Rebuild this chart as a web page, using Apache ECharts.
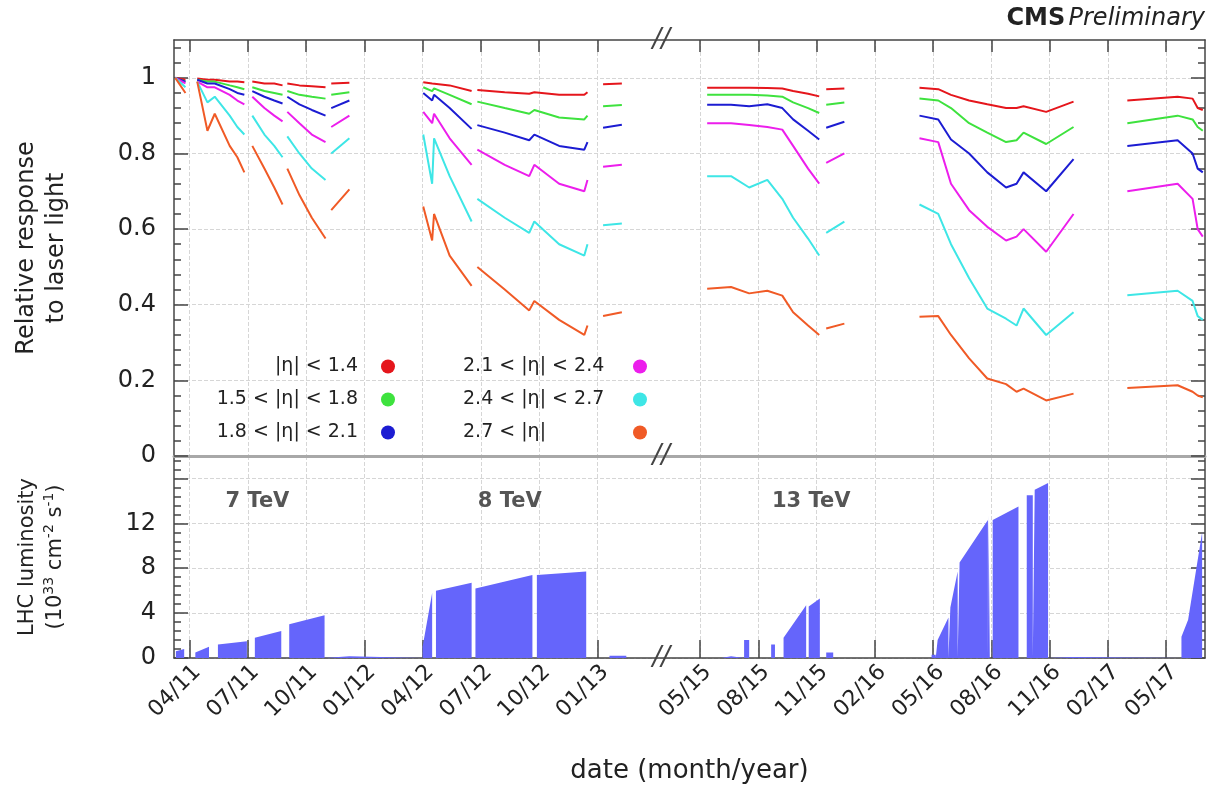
<!DOCTYPE html>
<html>
<head>
<meta charset="utf-8">
<script src="https://cdn.jsdelivr.net/npm/echarts@6/dist/echarts.min.js"></script>
<style>
html,body{margin:0;padding:0;background:#fff;}
#chart{width:1215px;height:787px;}
</style>
</head>
<body>
<div id="chart"></div>
<script>
// dates of the laser-monitoring segments (shared by all eta bins)
var segDates = [
  ['2011-03-09','2011-03-25'],
  ['2011-04-13','2011-04-29','2011-05-10','2011-06-03','2011-06-15','2011-06-26'],
  ['2011-07-08','2011-07-27','2011-08-12','2011-08-25'],
  ['2011-09-02','2011-09-21','2011-10-10','2011-11-01'],
  ['2011-11-10','2011-12-08'],
  ['2012-04-02','2012-04-16','2012-04-19','2012-05-13','2012-06-17'],
  ['2012-06-26','2012-08-08','2012-09-16','2012-09-24','2012-11-02','2012-12-11','2012-12-16'],
  ['2013-01-10','2013-02-09'],
  ['2015-05-12','2015-06-19','2015-07-17','2015-08-15','2015-09-08','2015-09-25','2015-10-18','2015-11-05'],
  ['2015-11-16','2015-12-14'],
  ['2016-04-10','2016-05-09','2016-05-29','2016-06-27','2016-07-25','2016-08-24','2016-09-10','2016-09-21','2016-10-26','2016-12-08'],
  ['2017-03-01','2017-05-19','2017-06-12','2017-06-20','2017-06-28']
];

var redVals = [[1.0,0.995],[0.998,0.995,0.995,0.99,0.99,0.988],[0.99,0.985,0.985,0.98],[0.985,0.98,0.978,0.975],[0.985,0.987],
  [0.988,0.985,0.988,0.98,0.965],[0.968,0.962,0.958,0.962,0.955,0.955,0.962],[0.983,0.985],
  [0.974,0.974,0.974,0.973,0.972,0.965,0.958,0.951],[0.97,0.972],
  [0.974,0.97,0.955,0.94,0.93,0.92,0.92,0.925,0.91,0.937],[0.94,0.95,0.945,0.92,0.915]];
var greenVals = [[1.0,0.99],[0.995,0.99,0.99,0.98,0.975,0.97],[0.975,0.965,0.96,0.955],[0.965,0.955,0.95,0.945],[0.955,0.962],
  [0.975,0.965,0.972,0.955,0.93],[0.937,0.92,0.905,0.915,0.895,0.89,0.90],[0.925,0.928],
  [0.955,0.955,0.955,0.953,0.95,0.935,0.92,0.907],[0.929,0.935],
  [0.945,0.94,0.92,0.88,0.855,0.83,0.835,0.855,0.825,0.87],[0.88,0.90,0.89,0.87,0.86]];
var blueVals = [[1.0,0.99],[0.995,0.985,0.985,0.97,0.96,0.955],[0.965,0.95,0.94,0.932],[0.95,0.93,0.915,0.90],[0.92,0.94],
  [0.96,0.94,0.955,0.92,0.865],[0.875,0.855,0.835,0.85,0.82,0.81,0.83],[0.868,0.876],
  [0.929,0.929,0.925,0.93,0.92,0.89,0.86,0.837],[0.868,0.884],
  [0.90,0.89,0.837,0.80,0.75,0.71,0.72,0.75,0.70,0.785],[0.82,0.835,0.80,0.76,0.75]];
var magentaVals = [[1.0,0.985],[0.99,0.975,0.975,0.955,0.94,0.93],[0.95,0.92,0.90,0.885],[0.91,0.88,0.85,0.83],[0.87,0.90],
  [0.91,0.88,0.905,0.84,0.77],[0.81,0.77,0.74,0.77,0.72,0.70,0.73],[0.765,0.77],
  [0.88,0.88,0.875,0.87,0.863,0.82,0.76,0.72],[0.775,0.80],
  [0.84,0.83,0.72,0.65,0.606,0.57,0.58,0.60,0.54,0.64],[0.70,0.72,0.68,0.60,0.58]];
var cyanVals = [[1.0,0.975],[0.99,0.935,0.95,0.90,0.87,0.85],[0.90,0.85,0.82,0.79],[0.845,0.80,0.76,0.73],[0.80,0.84],
  [0.85,0.72,0.84,0.74,0.62],[0.68,0.63,0.59,0.62,0.56,0.53,0.56],[0.61,0.615],
  [0.74,0.74,0.71,0.73,0.68,0.63,0.575,0.53],[0.59,0.62],
  [0.665,0.64,0.56,0.47,0.39,0.363,0.345,0.39,0.32,0.38],[0.425,0.437,0.41,0.37,0.36]];
var orangeVals = [[1.0,0.96],[0.99,0.86,0.905,0.82,0.79,0.75],[0.82,0.76,0.71,0.665],[0.76,0.69,0.63,0.575],[0.65,0.705],
  [0.66,0.57,0.64,0.53,0.45],[0.50,0.44,0.385,0.41,0.36,0.32,0.345],[0.37,0.38],
  [0.442,0.447,0.43,0.437,0.424,0.38,0.345,0.32],[0.337,0.35],
  [0.368,0.37,0.32,0.258,0.205,0.19,0.17,0.178,0.147,0.165],[0.18,0.187,0.17,0.16,0.155]];

var etaNames = ['|η| < 1.4','1.5 < |η| < 1.8','1.8 < |η| < 2.1','2.1 < |η| < 2.4','2.4 < |η| < 2.7','2.7 < |η|'];
var etaColors = ['#e5161c','#3ee23e','#1c1cd2','#ec1eec','#3ee6e6','#f05a26'];

// LHC luminosity blocks (10^33 cm^-2 s^-1)
var lumiStart = ['2011-03-10','2011-04-10','2011-05-15','2011-07-12','2011-09-05','2011-11-02',
  '2012-04-01','2012-04-22','2012-06-23','2012-09-28','2013-01-20',
  '2015-06-04','2015-07-09','2015-08-21','2015-09-10','2015-10-19','2015-11-16',
  '2016-04-29','2016-05-08','2016-05-28','2016-06-12','2016-07-27','2016-08-03','2016-09-26','2016-10-08','2016-10-30',
  '2017-05-25','2017-06-05'];
var lumiEnd = ['2011-03-23','2011-05-01','2011-06-30','2011-08-23','2011-10-30','2011-12-08',
  '2012-04-16','2012-06-17','2012-09-21','2012-12-14','2013-02-16',
  '2015-06-19','2015-07-17','2015-08-27','2015-10-15','2015-11-06','2015-11-27',
  '2016-05-05','2016-05-25','2016-06-09','2016-07-26','2016-07-29','2016-09-13','2016-10-05','2016-10-29','2016-12-06',
  '2017-06-05','2017-06-27'];
var lumiFrom = [0.6,0.5,1.2,1.8,3.0,0.15, 1.0,6.0,6.2,7.4,0.2, 0.15,1.6,1.2,1.8,4.6,0.5, 0.3,1.6,4.5,8.5,12.7,12.3,14.5,15.0,0.1, 1.9,3.4];
var lumiTo   = [0.8,1.0,1.5,2.4,3.8,0.15, 5.8,6.7,7.4,7.7,0.2, 0.15,1.6,1.2,4.7,5.3,0.5, 0.3,3.6,7.7,12.3,12.7,13.5,14.5,15.6,0.1, 3.4,11.2];

var tickDates = ['2011-04','2011-07','2011-10','2012-01','2012-04','2012-07','2012-10','2013-01',
  '2015-05','2015-08','2015-11','2016-02','2016-05','2016-08','2016-11','2017-02','2017-05'];
var tickLabels = ['04/11','07/11','10/11','01/12','04/12','07/12','10/12','01/13',
  '05/15','08/15','11/15','02/16','05/16','08/16','11/16','02/17','05/17'];

var yTicksTop = [0, 0.2, 0.4, 0.6, 0.8, 1.0];
var yLabelsLumi = [0, 4, 8, 12];

var runNames = ['7 TeV', '8 TeV', '13 TeV'];
var runLabelDates = ['2011-07-16', '2012-08-16', '2015-10-23'];

var AXIS_START = '2011-03-07', AXIS_END = '2017-07-01';
var BREAK_FROM = '2013-04-10', BREAK_TO = '2015-03-01';

function monthsOf(d) {
  var p = d.split('-').map(Number);
  return (p[0] - 2011) * 12 + (p[1] - 1) + ((p[2] || 1) - 1) / 30.5;
}
var BLO = monthsOf(BREAK_FROM), BHI = monthsOf(BREAK_TO);
// broken date axis: the shutdown between the two runs is cut out
function toAxis(d) {
  var m = monthsOf(d);
  return m < BLO ? m : m - (BHI - BLO);
}

var FONT = 'DejaVu Sans';
var chart = echarts.init(document.getElementById('chart'));

var tickVals = tickDates.map(toAxis);

function segPoints(vals) {
  var pts = [];
  segDates.forEach(function (dates, i) {
    dates.forEach(function (d, j) { pts.push([toAxis(d), vals[i][j]]); });
    pts.push([toAxis(dates[dates.length - 1]) + 0.05, null]);
  });
  return pts;
}

var lumiPts = [];
lumiStart.forEach(function (s, i) {
  var a = toAxis(s), b = toAxis(lumiEnd[i]);
  lumiPts.push([a, 0], [a, lumiFrom[i]], [b, lumiTo[i]], [b, 0]);
});

var etaValues = [redVals, greenVals, blueVals, magentaVals, cyanVals, orangeVals];
var series = etaValues.map(function (vals, i) {
  return {
    name: etaNames[i], type: 'line', xAxisIndex: 0, yAxisIndex: 0,
    symbol: 'none', connectNulls: false,
    lineStyle: {color: etaColors[i], width: 2},
    itemStyle: {color: etaColors[i]},
    data: segPoints(vals)
  };
});
series.push({
  name: 'lumi', type: 'line', xAxisIndex: 1, yAxisIndex: 2,
  symbol: 'none', lineStyle: {width: 0},
  areaStyle: {color: '#6565fb', opacity: 1},
  data: lumiPts
});

var xMin = toAxis(AXIS_START), xMax = toAxis(AXIS_END);
var frame = {color: '#444', width: 1.5};
var grid = {color: '#d6d6d6', type: 'dashed', width: 1};

function xFmt(v) {
  for (var i = 0; i < tickVals.length; i++) {
    if (Math.abs(tickVals[i] - v) < 1e-6) return tickLabels[i];
  }
  return '';
}

var option = {
  animation: false,
  textStyle: {fontFamily: FONT},
  grid: [
    {left: 174, right: 10, top: 40, height: 416, outerBoundsMode: 'none'},
    {left: 174, right: 10, top: 456, height: 202, outerBoundsMode: 'none'}
  ],
  xAxis: [
    {gridIndex: 0, type: 'value', position: 'top', min: xMin, max: xMax,
      axisLine: {show: true, onZero: false, lineStyle: frame},
      axisTick: {show: true, inside: true, length: 12, customValues: tickVals, lineStyle: frame},
      axisLabel: {show: false},
      splitLine: {show: true, lineStyle: grid}},
    {gridIndex: 1, type: 'value', position: 'bottom', min: xMin, max: xMax,
      axisLine: {show: true, onZero: false, lineStyle: frame},
      axisTick: {show: true, inside: true, length: 18, customValues: tickVals, lineStyle: frame},
      axisLabel: {customValues: tickVals, formatter: xFmt, rotate: 45, fontSize: 22, color: '#222',
        margin: 3, verticalAlign: 'top'},
      splitLine: {show: true, lineStyle: grid},
      name: 'date (month/year)', nameLocation: 'middle', nameGap: 100, nameMoveOverlap: false,
      nameTextStyle: {fontSize: 26, color: '#222'}},
    {gridIndex: 1, type: 'value', position: 'top', min: xMin, max: xMax,
      axisLine: {show: true, onZero: false, lineStyle: {color: '#a8a8a8', width: 3}},
      axisTick: {show: false}, axisLabel: {show: false}, splitLine: {show: false}}
  ],
  yAxis: [
    {gridIndex: 0, type: 'value', position: 'left', min: 0, max: 1.1, interval: 0.2,
      axisLine: {show: true, lineStyle: frame},
      axisTick: {show: true, inside: true, length: 14, customValues: yTicksTop, lineStyle: frame},
      minorTick: {show: true, splitNumber: 5, length: 7, lineStyle: frame},
      axisLabel: {customValues: yTicksTop, formatter: function (v) { return String(+v.toFixed(1)); },
        fontSize: 24, color: '#222', margin: 18},
      splitLine: {show: true, lineStyle: grid},
      name: 'Relative response\nto laser light', nameLocation: 'middle', nameGap: 102, nameRotate: 90,
      nameMoveOverlap: false, nameTextStyle: {fontSize: 24, lineHeight: 30, color: '#222'}},
    {gridIndex: 0, type: 'value', position: 'right', min: 0, max: 1.1, interval: 0.2,
      axisLine: {show: true, lineStyle: frame},
      axisTick: {show: true, inside: true, length: 14, customValues: yTicksTop, lineStyle: frame},
      minorTick: {show: true, splitNumber: 5, length: 7, lineStyle: frame},
      axisLabel: {show: false}, splitLine: {show: false}},
    {gridIndex: 1, type: 'value', position: 'left', min: 0, max: 18, interval: 4,
      axisLine: {show: true, lineStyle: frame},
      axisTick: {show: true, inside: true, length: 14, lineStyle: frame},
      minorTick: {show: true, splitNumber: 5, length: 7, lineStyle: frame},
      axisLabel: {customValues: yLabelsLumi, fontSize: 24, color: '#222', margin: 18},
      splitLine: {show: true, lineStyle: grid},
      name: 'LHC luminosity\n(10{sup|33} cm{sup|-2} s{sup|-1})', nameLocation: 'middle', nameGap: 104, nameRotate: 90,
      nameMoveOverlap: false,
      nameTextStyle: {fontSize: 21, lineHeight: 28, color: '#222',
        rich: {sup: {fontSize: 14, lineHeight: 17, verticalAlign: 'top', color: '#222'}}}},
    {gridIndex: 1, type: 'value', position: 'right', min: 0, max: 18, interval: 4,
      axisLine: {show: true, lineStyle: frame},
      axisTick: {show: true, inside: true, length: 14, lineStyle: frame},
      minorTick: {show: true, splitNumber: 5, length: 7, lineStyle: frame},
      axisLabel: {show: false}, splitLine: {show: false}}
  ],
  legend: [
    {data: etaNames.slice(0, 3), orient: 'vertical', align: 'right', right: 1215 - 395, top: 357,
      padding: 0, itemGap: 14, itemWidth: 14, itemHeight: 14, icon: 'circle', selectedMode: false,
      formatter: function (n) { return '{a|' + n + '}'; },
      textStyle: {fontSize: 19, color: '#222', rich: {a: {fontSize: 19, lineHeight: 22, color: '#222', padding: [0, 18, 0, 0]}}}},
    {data: etaNames.slice(3), orient: 'vertical', align: 'right', right: 1215 - 647, top: 357,
      padding: 0, itemGap: 14, itemWidth: 14, itemHeight: 14, icon: 'circle', selectedMode: false,
      formatter: function (n) { return '{b|' + n + '}'; },
      textStyle: {fontSize: 19, color: '#222', rich: {b: {fontSize: 19, lineHeight: 22, color: '#222', width: 148, align: 'left', padding: [0, 17, 0, 0]}}}}
  ],
  series: series
};
chart.setOption(option);

// decorations: break marks, run labels, experiment tag
var bx = chart.convertToPixel({xAxisIndex: 1}, BLO);
function slashes(y) {
  return {type: 'text', x: bx, y: y, z: 100,
    style: {text: '//', font: 'italic 26px ' + FONT, fill: '#444', align: 'center', verticalAlign: 'middle'}};
}
var gfx = [slashes(40), slashes(456), slashes(658)];
runNames.forEach(function (t, i) {
  gfx.push({type: 'text', x: chart.convertToPixel({xAxisIndex: 1}, toAxis(runLabelDates[i])), y: 502, z: 100,
    style: {text: t, font: 'bold 21px ' + FONT, fill: '#555', align: 'center', verticalAlign: 'middle'}});
});
gfx.push({type: 'text', right: 10, top: 7, z: 100,
  style: {text: '{b|CMS} {i|Preliminary}', fill: '#222',
    rich: {b: {font: 'bold 24px ' + FONT, fill: '#222'}, i: {font: 'italic 24px ' + FONT, fill: '#222'}}}});
chart.setOption({graphic: gfx});
</script>
</body>
</html>
